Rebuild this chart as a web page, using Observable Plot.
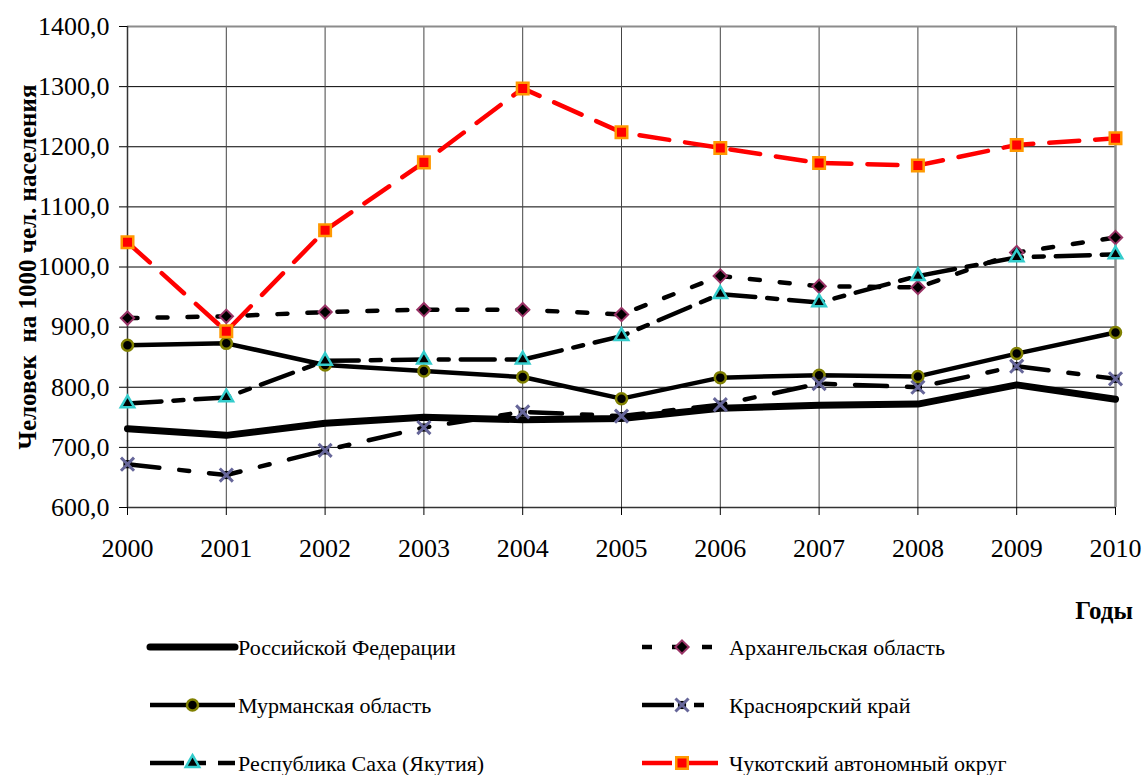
<!DOCTYPE html>
<html><head><meta charset="utf-8">
<script src="https://cdn.jsdelivr.net/npm/d3@7"></script>
<script src="https://cdn.jsdelivr.net/npm/@observablehq/plot@0.6"></script>
<style>
html,body{margin:0;padding:0;background:#fff;}
#chart{width:1145px;position:relative;font-family:"Liberation Serif","Times New Roman",serif;}
svg{display:block;}
</style></head><body><div id="chart"></div>
<script>
// ---- data ----
const years = [2000, 2001, 2002, 2003, 2004, 2005, 2006, 2007, 2008, 2009, 2010];
const yTicks = [600, 700, 800, 900, 1000, 1100, 1200, 1300, 1400];
const seriesNames = [
  "Российской Федерации",
  "Архангельская область",
  "Мурманская область",
  "Красноярский край",
  "Республика Саха (Якутия)",
  "Чукотский автономный округ"
];
const russia      = [731, 720, 740, 750, 746, 748, 765, 770, 772, 804, 780];
const arkhangelsk = [915, 918, 925, 929, 929, 921, 985, 968, 966, 1024, 1049];
const murmansk    = [870, 873, 837, 827, 817, 781, 816, 820, 818, 856, 891];
const krasnoyarsk = [672, 654, 695, 733, 759, 752, 771, 806, 800, 835, 814];
const sakha       = [773, 783, 844, 846, 846, 885, 955, 941, 985, 1016, 1021];
const chukotka    = [1041, 893, 1061, 1174, 1297, 1224, 1198, 1173, 1169, 1203, 1214];
const seriesValues = [russia, arkhangelsk, murmansk, krasnoyarsk, sakha, chukotka];
const xTitle = "Годы";
const yTitle = "Человек  на 1000 чел. населения";

// ---- styles ----
const styles = [
  {stroke: "#000", width: 7, dash: null, symbol: null},
  {stroke: "#000", width: 4.5, dash: "10,20", symbol: "diamond2", fill: "#000", mstroke: "#993366", r: 6, msw: 2},
  {stroke: "#000", width: 4.5, dash: null, symbol: "circle", fill: "#000", mstroke: "#808000", r: 5.5, msw: 2.5},
  {stroke: "#000", width: 4.5, dash: "32,20,10,20", symbol: "times", fill: "none", mstroke: "#666699", r: 6, msw: 3, back: "#000"},
  {stroke: "#000", width: 4.5, dash: "34,12,10,12", symbol: "triangle", fill: "#000", mstroke: "#33CCCC", r: 5, msw: 2.5},
  {stroke: "#FF0000", width: 4.5, dash: "30,16", symbol: "square", fill: "#FF0000", mstroke: "#FF9900", r: 6.5, msw: 2.5}
];

const rows = [];
seriesNames.forEach((name, i) => {
  years.forEach((yr, j) => rows.push({series: name, year: yr, value: seriesValues[i][j]}));
});

const marks = [
  Plot.ruleY(yTicks, {stroke: "#000", strokeWidth: 1}),
  Plot.ruleX(years, {stroke: "#444", strokeWidth: 1}),
  Plot.ruleY([1400], {stroke: "#8c8c8c", strokeWidth: 2}),
  Plot.ruleX([2010], {stroke: "#8c8c8c", strokeWidth: 2.5}),
  Plot.ruleY([600], {stroke: "#333", strokeWidth: 1.5}),
  Plot.ruleX([2000], {stroke: "#333", strokeWidth: 1.5}),
  Plot.axisX({ticks: years, tickFormat: d => String(d), tickSize: 8, tickPadding: 23, label: null}),
  Plot.axisY({ticks: yTicks, tickFormat: d => d.toFixed(1).replace(".", ","), tickSize: 8, tickPadding: 10, label: null})
];
seriesNames.forEach((name, i) => {
  const s = styles[i];
  const data = rows.filter(d => d.series === name);
  marks.push(Plot.line(data, {x: "year", y: "value", stroke: s.stroke, strokeWidth: s.width,
    strokeDasharray: s.dash || undefined, strokeLinejoin: "round"}));
  if (s.back) {
    marks.push(Plot.dot(data, {x: "year", y: "value", symbol: () => "square", r: 4.6, fill: s.back}));
  }
  if (s.symbol) {
    marks.push(Plot.dot(data, {x: "year", y: "value", symbol: () => s.symbol, r: s.r,
      fill: s.fill, stroke: s.mstroke, strokeWidth: s.msw}));
  }
});

const chart = Plot.plot({
  width: 1145,
  height: 625,
  marginTop: 26,
  marginLeft: 127,
  marginRight: 30,
  marginBottom: 118,
  x: {domain: [2000, 2010]},
  y: {domain: [600, 1400]},
  symbol: {type: "identity"},
  style: {fontFamily: "Liberation Serif, Times New Roman, serif", fontSize: "26px", color: "#000", background: "#fff"},
  marks
});

const svg = d3.select(chart);
svg.append("text")
  .attr("transform", "translate(27,267) rotate(-90)")
  .attr("text-anchor", "middle")
  .attr("dy", "0.35em")
  .attr("font-weight", "bold")
  .attr("font-size", 25)
  .attr("fill", "#000")
  .text(yTitle);
svg.append("text")
  .attr("x", 1133).attr("y", 619)
  .attr("text-anchor", "end")
  .attr("font-weight", "bold")
  .attr("font-size", 25)
  .attr("fill", "#000")
  .text(xTitle);

document.getElementById("chart").appendChild(chart);

// ---- legend (below the plot SVG) ----
const symbolMap = {diamond2: d3.symbolDiamond2, circle: d3.symbolCircle, times: d3.symbolTimes,
  triangle: d3.symbolTriangle, square: d3.symbolSquare};
const leg = d3.select("#chart").append("svg")
  .attr("width", 1145).attr("height", 150)
  .style("font-family", "Liberation Serif, Times New Roman, serif");
const legendRowY = [22, 80, 138];
const colSample = [150, 642];
const colText = [238, 729];
seriesNames.forEach((name, i) => {
  const s = styles[i];
  const col = i % 2, row = Math.floor(i / 2);
  const y = legendRowY[row];
  const x0 = colSample[col], x1 = x0 + (col === 0 ? 85 : 80);
  const ln = leg.append("line").attr("x1", x0).attr("x2", x1).attr("y1", y).attr("y2", y)
    .attr("stroke", s.stroke).attr("stroke-width", s.width).attr("stroke-linecap", i === 0 ? "round" : "butt");
  if (s.dash) ln.attr("stroke-dasharray", s.dash);
  const cx = (x0 + x1) / 2;
  if (s.back) {
    leg.append("path").attr("d", d3.symbol(d3.symbolSquare, Math.PI * 4.6 * 4.6)())
      .attr("transform", `translate(${cx},${y})`).attr("fill", s.back);
  }
  if (s.symbol) {
    leg.append("path")
      .attr("d", d3.symbol(symbolMap[s.symbol], Math.PI * s.r * s.r)())
      .attr("transform", `translate(${cx},${y})`)
      .attr("fill", s.fill).attr("stroke", s.mstroke).attr("stroke-width", s.msw);
  }
  leg.append("text").attr("x", colText[col]).attr("y", y + 7.5)
    .attr("font-size", 22).attr("fill", "#000").text(name);
});
</script></body></html>
